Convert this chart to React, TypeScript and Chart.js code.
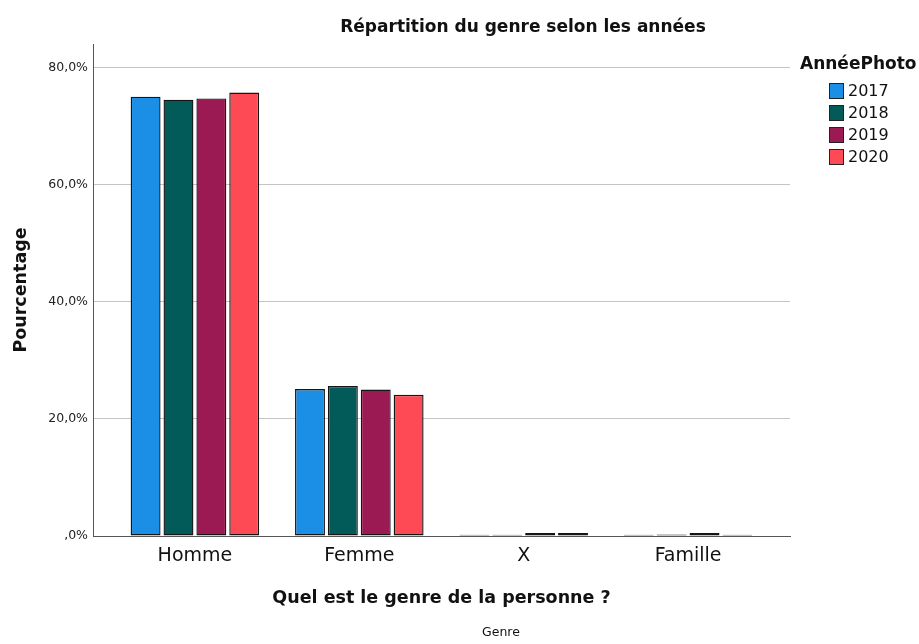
import React, { useEffect, useRef } from "react";
import { Chart, registerables } from "chart.js";

Chart.register(...registerables);

const categories = ["Homme", "Femme", "X", "Famille"];
const years = ["2017", "2018", "2019", "2020"];
const values2017 = [75.0, 25.1, 0.2, 0.2];
const values2018 = [74.5, 25.6, 0.2, 0.25];
const values2019 = [74.7, 25.0, 0.5, 0.5];
const values2020 = [75.7, 24.1, 0.5, 0.2];
const seriesColors = ["#1b8fe6", "#025b59", "#9b1a53", "#fe4a55"];
const yTicks = [0, 20, 40, 60, 80];

const chartTitle = "Répartition du genre selon les années";
const yTitle = "Pourcentage";
const xTitle = "Quel est le genre de la personne ?";
const footText = "Genre";
const legendTitle = "AnnéePhoto";

const FONT = "'DejaVu Sans', sans-serif";

export default function App() {
  const ref = useRef<HTMLCanvasElement | null>(null);

  useEffect(() => {
    document.body.style.margin = "0";
    const canvas = ref.current;
    if (!canvas) return;
    const allValues = [values2017, values2018, values2019, values2020];

    const extraText = {
      id: "extraText",
      afterDraw(chart: any) {
        const ctx = chart.ctx as CanvasRenderingContext2D;
        ctx.save();
        ctx.fillStyle = "#111";
        ctx.textBaseline = "middle";
        // title
        ctx.font = `bold 17px ${FONT}`;
        ctx.textAlign = "center";
        ctx.fillText(chartTitle, 523, 28);
        // foot
        ctx.font = `12.5px ${FONT}`;
        ctx.fillText(footText, 501, 633);
        // legend
        ctx.textAlign = "left";
        ctx.font = `bold 17px ${FONT}`;
        ctx.fillText(legendTitle, 800, 65);
        ctx.font = `16px ${FONT}`;
        years.forEach((y, i) => {
          const cy = 91 + i * 22;
          ctx.fillStyle = seriesColors[i];
          ctx.fillRect(829, cy - 8, 15, 16);
          ctx.strokeStyle = "#222";
          ctx.lineWidth = 1;
          ctx.strokeRect(829.5, cy - 7.5, 14, 15);
          ctx.fillStyle = "#111";
          ctx.fillText(y, 848, cy + 1);
        });
        ctx.restore();
      },
    };

    const chart = new Chart(canvas, {
      type: "bar",
      data: {
        datasets: years.map((y, i) => ({
          label: y,
          data: allValues[i].map((v, j) => ({ x: j, y: v })),
          backgroundColor: seriesColors[i],
          borderColor: "#151515",
          borderWidth: 1.4,
          borderSkipped: false,
          categoryPercentage: 0.8,
          barPercentage: 0.91,
        })),
      },
      options: {
        responsive: false,
        animation: false,
        layout: { padding: { top: 44, right: 129, bottom: 0, left: 0 } },
        plugins: {
          legend: { display: false },
          title: { display: false },
          tooltip: { enabled: false },
        },
        scales: {
          x: {
            type: "linear",
            offset: false,
            min: -0.62,
            max: 3.62,
            afterBuildTicks: (s: any) => {
              s.ticks = categories.map((_, i) => ({ value: i }));
            },
            afterFit: (s: any) => {
              s.height = 108;
            },
            ticks: {
              callback: (v: any) => categories[v as number] ?? "",
              color: "#111",
              font: { family: FONT, size: 19 },
              padding: 9,
              maxRotation: 0,
              autoSkip: false,
            },
            grid: { display: false, drawTicks: false },
            border: { display: true, color: "#555", width: 1 },
            title: {
              display: true,
              text: xTitle,
              color: "#111",
              font: { family: FONT, size: 17.5, weight: "bold" },
              padding: { top: 0, bottom: 35 },
            },
          },
          y: {
            min: 0,
            max: 84,
            afterBuildTicks: (s: any) => {
              s.ticks = yTicks.map((v) => ({ value: v }));
            },
            afterFit: (s: any) => {
              s.width = 93;
            },
            ticks: {
              callback: (v: any) =>
                v === 0 ? ",0%" : (v as number).toFixed(1).replace(".", ",") + "%",
              color: "#222",
              font: { family: FONT, size: 12.5 },
              padding: 5,
            },
            grid: { color: "#c4c4c4", lineWidth: 1, drawTicks: false },
            border: { display: true, color: "#555", width: 1 },
            title: {
              display: true,
              text: yTitle,
              color: "#111",
              font: { family: FONT, size: 17.5, weight: "bold" },
              padding: { top: 11, bottom: 0 },
            },
          },
        },
      },
      plugins: [extraText],
    } as any);

    return () => chart.destroy();
  }, []);

  return (
    <div style={{ position: "fixed", left: 0, top: 0, width: 919, height: 644 }}>
      <canvas ref={ref} width={919} height={644} />
    </div>
  );
}
